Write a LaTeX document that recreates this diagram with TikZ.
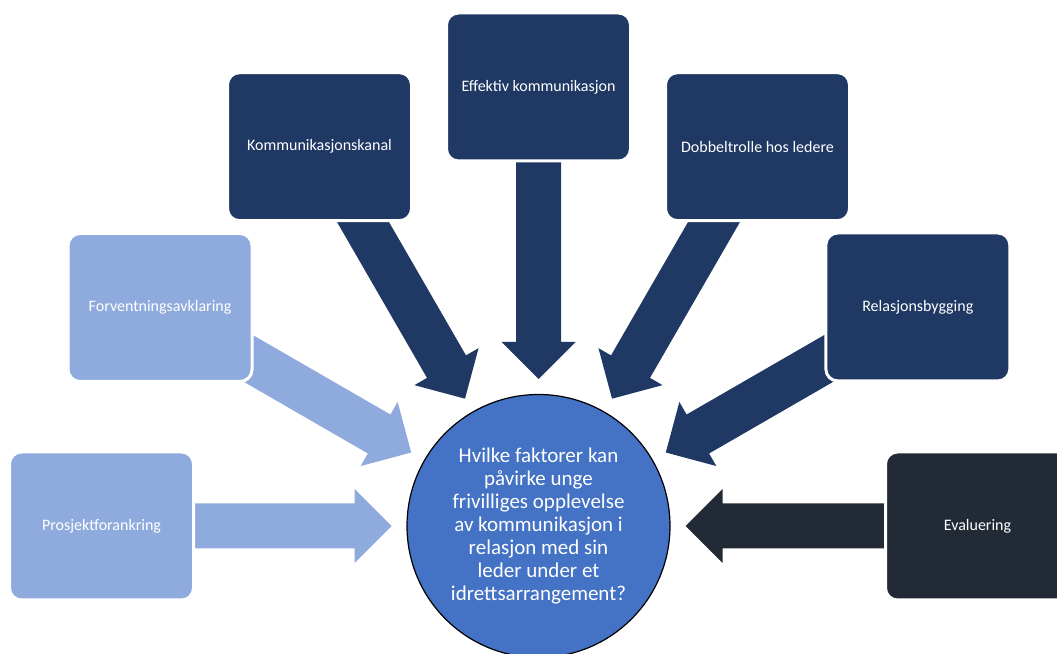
\documentclass[tikz,border=0pt]{standalone}
\usepackage{fontspec}
\setmainfont{Carlito}
\definecolor{lightblue}{HTML}{8FAADC}
\definecolor{navy}{HTML}{203864}
\definecolor{slate}{HTML}{222A35}
\definecolor{hubblue}{HTML}{4472C4}
\tikzset{
  factor/.style={draw=white, line width=3pt, rounded corners=12pt,
    minimum width=184pt, minimum height=148pt, text=white,
    font=\fontsize{16}{19}\selectfont},
  hub/.style={circle, draw=black, line width=1.2pt, fill=hubblue,
    minimum size=263pt, inner sep=0pt, text=white, align=center,
    font=\fontsize{21}{23}\selectfont},
}
% block arrow pointing at the hub, drawn along the ray at angle #1
\newcommand{\blockarrow}[2]{%
  \fill[#2, shift={(hubq.center)}, rotate=#1]
    (147,0) -- (184,37) -- (184,22.5) -- (400,22.5)
    -- (400,-22.5) -- (184,-22.5) -- (184,-37) -- cycle;}
\begin{document}
\begin{tikzpicture}[x=1pt, y=1pt]
  \useasboundingbox (0,0) rectangle (1057,653);
  \clip (0,0) rectangle (1057,653);
  \fill[white] (0,0) rectangle (1057,653);

  % central question
  \node[hub] (hubq) at (538.5,127) {Hvilke faktorer kan\\påvirke unge\\frivilliges opplevelse\\av kommunikasjon i\\relasjon med sin\\leder under et\\idrettsarrangement?};

  % arrows converging on the question
  \blockarrow{180}{lightblue}
  \blockarrow{150}{lightblue}
  \blockarrow{120}{navy}
  \blockarrow{90}{navy}
  \blockarrow{60}{navy}
  \blockarrow{30}{navy}
  \blockarrow{0}{slate}

  % factor boxes
  \node[factor, fill=lightblue] (f1) at ([shift={(180:437)}]hubq.center) {Prosjektforankring};
  \node[factor, fill=lightblue] (f2) at ([shift={(150:437)}]hubq.center) {Forventningsavklaring};
  \node[factor, fill=navy] (f3) at ([shift={(120:438)}]hubq.center) {Kommunikasjonskanal};
  \node[factor, fill=navy] (f4) at ([shift={(90:439)}]hubq.center) {Effektiv kommunikasjon};
  \node[factor, fill=navy] (f5) at ([shift={(60:438)}]hubq.center) {Dobbeltrolle hos ledere};
  \node[factor, fill=navy] (f6) at ([shift={(30:438)}]hubq.center) {Relasjonsbygging};
  \node[factor, fill=slate] (f7) at ([shift={(0:439)}]hubq.center) {Evaluering};
\end{tikzpicture}
\end{document}
